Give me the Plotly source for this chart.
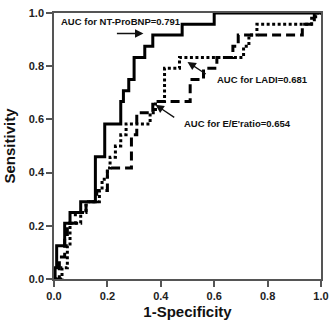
import plotly.graph_objects as go

# NT-ProBNP (solid)
nt_x = [0, 0.004, 0.004, 0.01, 0.01, 0.04, 0.04, 0.06, 0.06, 0.10, 0.10, 0.155, 0.155, 0.19, 0.19,
        0.25, 0.25, 0.26, 0.26, 0.28, 0.28, 0.30, 0.30, 0.34, 0.34, 0.37, 0.37, 0.48, 0.48, 0.60, 0.60, 1.0]
nt_y = [0, 0, 0.042, 0.042, 0.125, 0.125, 0.21, 0.21, 0.25, 0.25, 0.29, 0.29, 0.46, 0.46, 0.583,
        0.583, 0.667, 0.667, 0.708, 0.708, 0.75, 0.75, 0.833, 0.833, 0.875, 0.875, 0.917, 0.917, 0.958, 0.958, 1.0, 1.0]

# LADI (dotted)
ladi_x = [0, 0.03, 0.03, 0.05, 0.05, 0.06, 0.06, 0.10, 0.10, 0.12, 0.12, 0.17, 0.17, 0.18, 0.18, 0.20, 0.20,
          0.21, 0.21, 0.23, 0.23, 0.25, 0.25, 0.27, 0.27, 0.36, 0.36, 0.38, 0.38, 0.414, 0.414, 0.47, 0.47,
          0.71, 0.71, 0.73, 0.73, 0.76, 0.76, 0.965, 0.965, 0.98, 0.98, 1.0]
ladi_y = [0, 0, 0.042, 0.042, 0.125, 0.125, 0.21, 0.21, 0.25, 0.25, 0.29, 0.29, 0.333, 0.333, 0.375, 0.375, 0.417,
          0.417, 0.458, 0.458, 0.5, 0.5, 0.542, 0.542, 0.583, 0.583, 0.625, 0.625, 0.667, 0.667, 0.792, 0.792, 0.833,
          0.833, 0.875, 0.875, 0.917, 0.917, 0.958, 0.958, 0.98, 0.98, 1.0, 1.0]

# E/E' ratio (dashed)
ee_x = [0, 0.02, 0.02, 0.04, 0.04, 0.05, 0.05, 0.08, 0.08, 0.12, 0.12, 0.16, 0.16, 0.20, 0.20, 0.29, 0.29,
        0.31, 0.31, 0.37, 0.37, 0.51, 0.51, 0.56, 0.56, 0.61, 0.61, 0.67, 0.67, 0.69, 0.69, 0.93, 0.93,
        0.975, 0.975, 1.0]
ee_y = [0, 0, 0.083, 0.083, 0.167, 0.167, 0.21, 0.21, 0.25, 0.25, 0.29, 0.29, 0.333, 0.333, 0.417, 0.417, 0.542,
        0.542, 0.625, 0.625, 0.667, 0.667, 0.75, 0.75, 0.792, 0.792, 0.833, 0.833, 0.875, 0.875, 0.917, 0.917, 0.958,
        0.958, 1.0, 1.0]

tick_vals = [0, 0.2, 0.4, 0.6, 0.8, 1.0]
tick_text = ["0.0", "0.2", "0.4", "0.6", "0.8", "1.0"]

FONT = "Arial, 'Liberation Sans', sans-serif"

fig = go.Figure()
fig.add_trace(go.Scatter(x=ee_x, y=ee_y, mode="lines",
                         line=dict(color="black", width=3, dash="9px,5px"), hoverinfo="skip"))
fig.add_trace(go.Scatter(x=ladi_x, y=ladi_y, mode="lines",
                         line=dict(color="black", width=3, dash="3px,2.5px"), hoverinfo="skip"))
fig.add_trace(go.Scatter(x=nt_x, y=nt_y, mode="lines",
                         line=dict(color="black", width=3), hoverinfo="skip"))

ann_font = dict(family=FONT, size=9.5, color="#111", weight="bold")
fig.add_annotation(x=0.018, y=0.967, xref="x", yref="y", text="AUC for NT-ProBNP=0.791",
                   showarrow=False, xanchor="left", yanchor="middle", font=ann_font)
fig.add_annotation(x=0.603, y=0.751, xref="x", yref="y", text="AUC for LADI=0.681",
                   showarrow=False, xanchor="left", yanchor="middle", font=ann_font)
fig.add_annotation(x=0.48, y=0.583, xref="x", yref="y", text="AUC for E/E'ratio=0.654",
                   showarrow=False, xanchor="left", yanchor="middle", font=ann_font)

arrows = [((0.23, 0.923), (0.335, 0.923)),
          ((0.574, 0.767), (0.50, 0.816)),
          ((0.456, 0.604), (0.38, 0.655))]
for (tx, ty), (hx, hy) in arrows:
    fig.add_annotation(x=hx, y=hy, ax=tx, ay=ty, xref="x", yref="y", axref="x", ayref="y",
                       text="", showarrow=True, arrowhead=2, arrowsize=1.3, arrowwidth=1.3,
                       arrowcolor="#111")

axis_common = dict(range=[0, 1], tickvals=tick_vals, ticktext=tick_text, showgrid=False, zeroline=False,
                   showline=True, linecolor="#555", linewidth=1.5, mirror=True,
                   ticks="outside", ticklen=6, tickwidth=1.5, tickcolor="#555",
                   tickfont=dict(family=FONT, size=11, color="#222", weight="bold"))

fig.update_layout(
    width=336, height=325,
    margin=dict(l=54, r=10, t=7, b=44),
    paper_bgcolor="white", plot_bgcolor="white",
    showlegend=False,
    xaxis=dict(**axis_common, title=dict(text="1-Specificity", standoff=6,
                                         font=dict(family=FONT, size=15, color="#111", weight="bold"))),
    yaxis=dict(**axis_common, title=dict(text="Sensitivity", standoff=10,
                                         font=dict(family=FONT, size=15, color="#111", weight="bold"))),
)

fig.write_html("out.html")
